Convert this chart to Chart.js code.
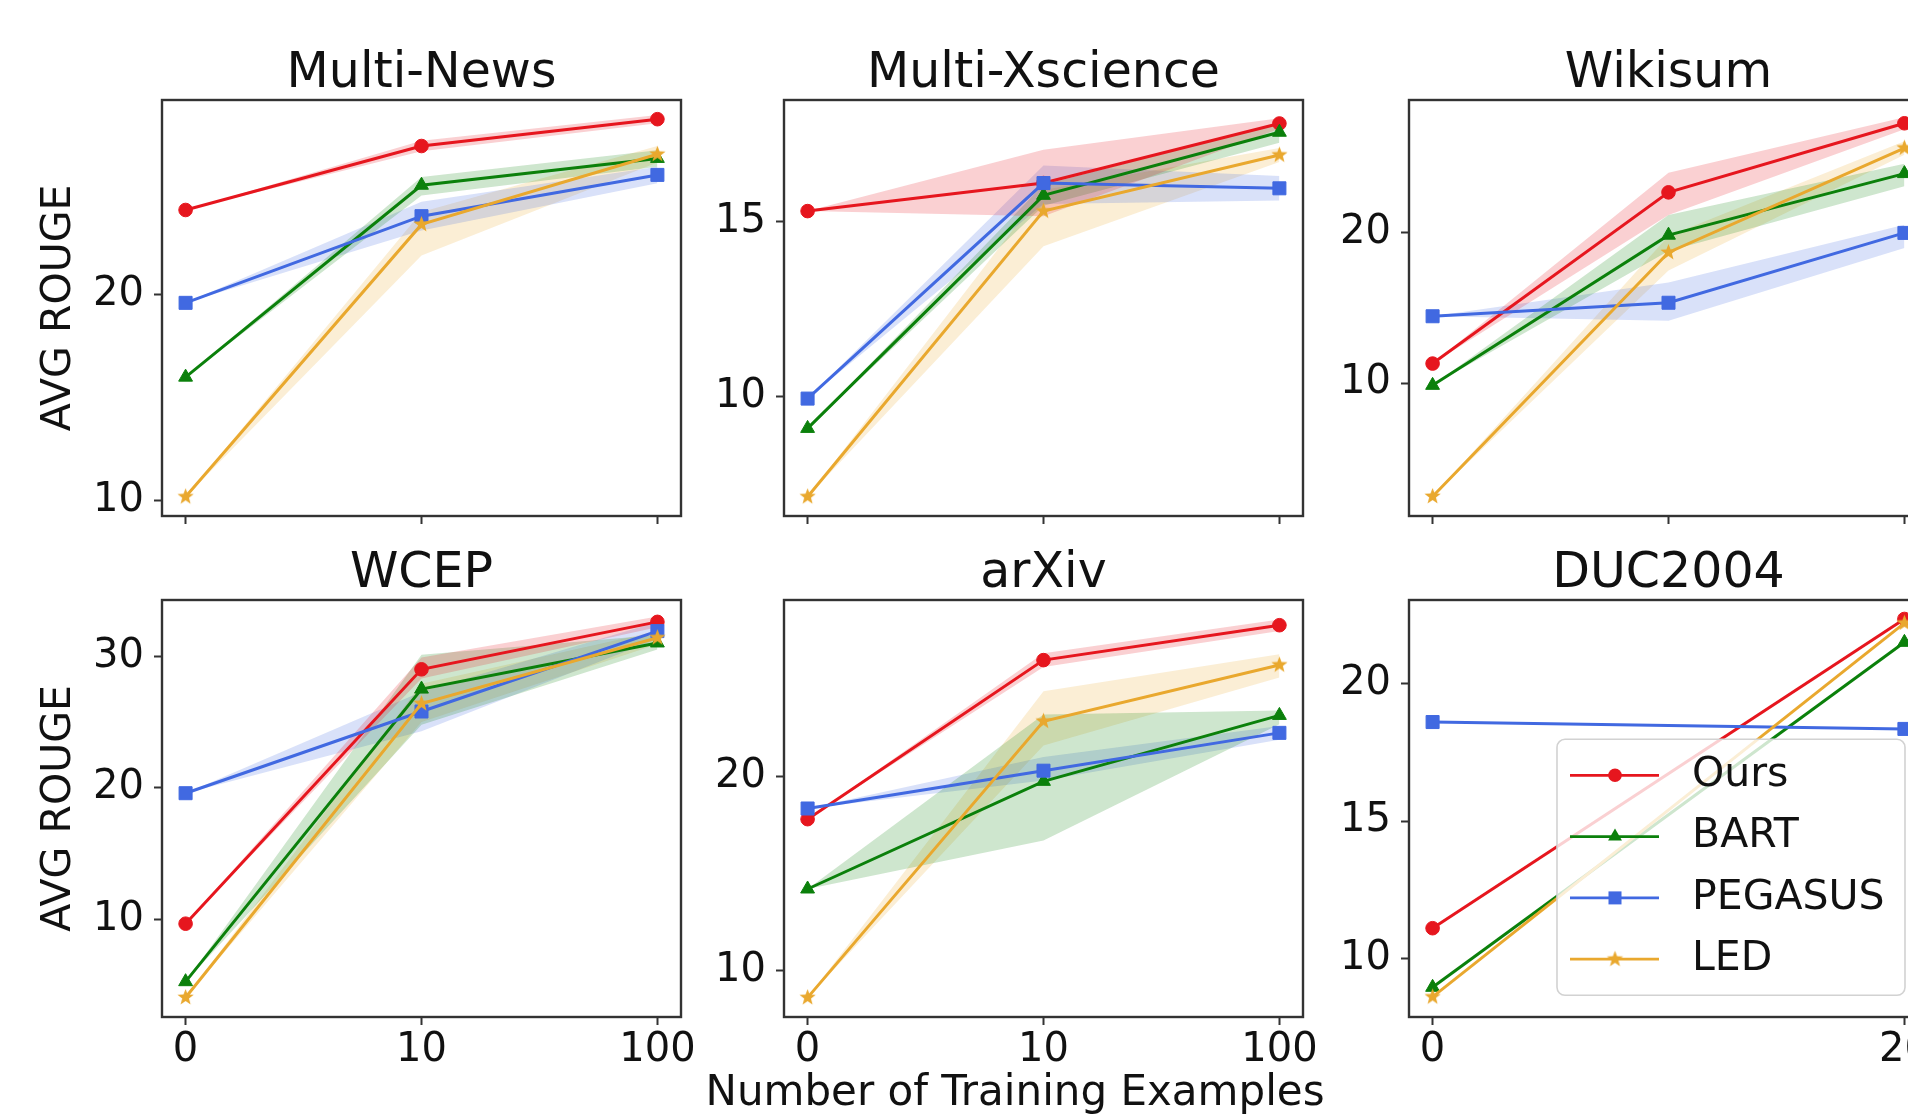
<!DOCTYPE html>
<html>
<head>
<meta charset="utf-8">
<title>Few-shot AVG ROUGE</title>
<script src="https://cdn.jsdelivr.net/npm/chart.js@4.4.1/dist/chart.umd.min.js"></script>
<style>
  html, body { margin: 0; padding: 0; background: #fff; width: 1908px; height: 1116px; overflow: hidden; }
  canvas { position: absolute; }
  #xlabel { position: absolute; left: 1015px; top: 1070px; transform: translateX(-50%);
            font-family: 'DejaVu Sans'; font-size: 42px; line-height: 42px; white-space: nowrap; color: #111; }
</style>
</head>
<body>
<canvas id="news"></canvas>
<canvas id="xsci"></canvas>
<canvas id="wiki"></canvas>
<canvas id="wcep"></canvas>
<canvas id="arxiv"></canvas>
<canvas id="duc"></canvas>
<div id="xlabel">Number of Training Examples</div>
<script>
// models and x categories
var models = ['Ours', 'BART', 'PEGASUS', 'LED'];
var shots = ['0', '10', '100'];
var ducShots = ['0', '20'];

// rows follow the models order: mean, lower and upper edge of the shaded band
var newsMean = [[24.1, 27.2, 28.5], [16.0, 25.3, 26.6], [19.6, 23.8, 25.8], [10.2, 23.4, 26.8]];
var newsLow  = [[24.1, 26.95, 28.3], [16.0, 24.8, 26.2], [19.6, 23.1, 25.4], [10.2, 21.9, 26.4]];
var newsHigh = [[24.1, 27.45, 28.7], [16.0, 25.7, 27.0], [19.6, 24.5, 26.2], [10.2, 24.0, 27.2]];
var newsTicks = [10, 20];
var newsRange = [9.27, 29.43];

var xsciMean = [[15.3, 16.1, 17.8], [9.1, 15.75, 17.55], [9.95, 16.1, 15.95], [7.15, 15.3, 16.9]];
var xsciLow  = [[15.3, 15.15, 17.65], [9.1, 15.45, 17.25], [9.95, 15.5, 15.6], [7.15, 14.3, 16.7]];
var xsciHigh = [[15.3, 17.05, 17.95], [9.1, 16.05, 17.8], [9.95, 16.6, 16.3], [7.15, 15.9, 17.1]];
var xsciTicks = [10, 15];
var xsciRange = [6.6, 18.47];

var wikiMean = [[11.3, 22.7, 27.3], [9.85, 19.85, 23.95], [14.45, 15.35, 20.0], [2.45, 18.7, 25.65]];
var wikiLow  = [[11.3, 21.2, 26.9], [9.85, 18.8, 23.1], [14.45, 14.15, 19.0], [2.45, 17.5, 25.2]];
var wikiHigh = [[11.3, 24.0, 27.7], [9.85, 21.2, 24.6], [14.45, 16.7, 20.55], [2.45, 19.8, 26.1]];
var wikiTicks = [10, 20];
var wikiRange = [1.15, 28.85];

var wcepMean = [[9.7, 29.0, 32.6], [5.3, 27.5, 31.0], [19.6, 25.8, 31.9], [4.1, 26.4, 31.4]];
var wcepLow  = [[9.7, 28.3, 32.2], [5.3, 24.8, 30.5], [19.6, 24.3, 31.3], [4.1, 25.0, 30.9]];
var wcepHigh = [[9.7, 29.9, 33.0], [5.3, 30.1, 31.6], [19.6, 27.3, 32.6], [4.1, 27.9, 31.9]];
var wcepTicks = [10, 20, 30];
var wcepRange = [2.62, 34.26];

var arxivMean = [[17.8, 26.0, 27.8], [14.2, 19.75, 23.15], [18.35, 20.3, 22.25], [8.6, 22.85, 25.75]];
var arxivLow  = [[17.8, 25.65, 27.5], [14.2, 16.7, 22.7], [18.35, 19.8, 21.9], [8.6, 21.6, 25.1]];
var arxivHigh = [[17.8, 26.35, 28.1], [14.2, 23.2, 23.4], [18.35, 21.0, 22.6], [8.6, 24.4, 26.3]];
var arxivTicks = [10, 20];
var arxivRange = [7.6, 29.1];

var ducMean = [[11.1, 22.35], [8.95, 21.5], [18.6, 18.35], [8.6, 22.2]];
var ducTicks = [10, 15, 20];
var ducRange = [7.87, 23.04];

// styles
var FONT = 'DejaVu Sans';
var colors = ['#e6161e', '#0b800b', '#4169e1', '#e9a82e'];
var bands = ['rgba(230,22,30,0.2)', 'rgba(11,128,11,0.2)', 'rgba(65,105,225,0.2)', 'rgba(233,168,46,0.2)'];
var radii = [6.8, 8, 9.2, 8.5];

function starImage(color, r) {
    var c = document.createElement('canvas');
    c.width = c.height = Math.ceil(r * 2 + 2);
    var g = c.getContext('2d');
    var m = c.width / 2;
    g.beginPath();
    for (var k = 0; k < 10; k++) {
        var rr = k % 2 ? r * 0.42 : r;
        var a = -Math.PI / 2 + k * Math.PI / 5;
        g.lineTo(m + rr * Math.cos(a), m + rr * Math.sin(a));
    }
    g.closePath();
    g.fillStyle = color;
    g.fill();
    return c;
}
var markers = ['circle', 'triangle', 'rect', starImage(colors[3], 8.5)];

function drawMarker(ctx, k, x, y) {
    var st = markers[k], r = radii[k];
    ctx.fillStyle = colors[k];
    if (typeof st === 'object') { ctx.drawImage(st, x - st.width / 2, y - st.height / 2); return; }
    ctx.beginPath();
    if (st === 'circle') ctx.arc(x, y, r, 0, Math.PI * 2);
    else if (st === 'rect') { var s = r * Math.SQRT1_2; ctx.rect(x - s, y - s, 2 * s, 2 * s); }
    else {
        for (var i = 0; i < 3; i++) {
            var a = i * Math.PI * 2 / 3;
            ctx.lineTo(x + Math.sin(a) * r, y - Math.cos(a) * r);
        }
        ctx.closePath();
    }
    ctx.fill();
}

// box around every axes
var frame = {
    id: 'frame',
    afterDraw: function (chart) {
        var a = chart.chartArea, ctx = chart.ctx;
        ctx.save();
        ctx.strokeStyle = '#333';
        ctx.lineWidth = 2.4;
        ctx.strokeRect(a.left, a.top, a.right - a.left, a.bottom - a.top);
        ctx.restore();
    }
};

// matplotlib-like legend, lower right inside the axes
var legendBox = {
    id: 'legendBox',
    afterDraw: function (chart, args, opts) {
        if (!opts.show) return;
        var ctx = chart.ctx, a = chart.chartArea;
        var w = 348, h = 256;
        var x0 = a.right - 23 - w, y0 = a.bottom - 21.7 - h;
        ctx.save();
        ctx.beginPath();
        ctx.roundRect(x0, y0, w, h, 8);
        ctx.fillStyle = 'rgba(255,255,255,0.8)';
        ctx.fill();
        ctx.strokeStyle = '#d2d2d2';
        ctx.lineWidth = 1.6;
        ctx.stroke();
        ctx.font = '41px ' + FONT;
        ctx.textBaseline = 'middle';
        models.forEach(function (name, k) {
            var y = y0 + 36 + k * 61.3;
            ctx.strokeStyle = colors[k];
            ctx.lineWidth = 2.8;
            ctx.beginPath();
            ctx.moveTo(x0 + 13, y);
            ctx.lineTo(x0 + 102, y);
            ctx.stroke();
            drawMarker(ctx, k, x0 + 58, y);
            ctx.fillStyle = '#111';
            ctx.fillText(name, x0 + 135, y);
        });
        ctx.restore();
    }
};

function toPoints(vals) {
    return vals.map(function (v, i) { return { x: i, y: v }; });
}

// plot areas of the 3x2 grid
var plotLeft = [162, 784, 1409];
var axisWidth = [162, 100, 100];
var plotTop = [100, 600];
var plotHeight = [416, 417];
var PLOT_W = 519;
var PAD_R = 40;

function makePanel(id, title, row, col, labels, mean, low, high, yTicks, yRange, legend) {
    var cv = document.getElementById(id);
    var yw = axisWidth[col];
    var xh = row === 1 ? 60 : 24;
    var titleBox = 49 * 1.05;
    cv.width = yw + PLOT_W + PAD_R;
    cv.height = 60 + plotHeight[row] + xh;
    cv.style.left = (plotLeft[col] - yw) + 'px';
    cv.style.top = (plotTop[row] - 60) + 'px';

    var sets = [];
    models.forEach(function (name, k) {
        if (!low) return;
        sets.push({ data: toPoints(high[k]), borderWidth: 0, borderColor: 'transparent', pointRadius: 0, fill: false, order: 10 });
        sets.push({ data: toPoints(low[k]), borderWidth: 0, borderColor: 'transparent', pointRadius: 0,
                    fill: '-1', backgroundColor: bands[k], order: 10 });
    });
    models.forEach(function (name, k) {
        sets.push({
            label: name, data: toPoints(mean[k]),
            borderColor: colors[k], backgroundColor: colors[k], borderWidth: 3,
            pointStyle: markers[k], pointRadius: radii[k], pointBorderWidth: 1,
            pointBackgroundColor: colors[k], pointBorderColor: colors[k],
            tension: 0, fill: false, order: 3 - k
        });
    });

    var margin = (labels.length - 1) * 0.05;
    var tickFont = { family: FONT, size: 40 };

    return new Chart(cv, {
        type: 'line',
        data: { datasets: sets },
        options: {
            responsive: false,
            animation: false,
            devicePixelRatio: 1,
            layout: { autoPadding: false, padding: { left: 0, top: 60 - titleBox, right: PAD_R, bottom: 0 } },
            plugins: {
                legend: { display: false },
                tooltip: { enabled: false },
                title: { display: true, text: title, fullSize: false, padding: 0, color: '#111',
                         font: { family: FONT, size: 49, weight: 'normal', lineHeight: 1.05 } },
                legendBox: { show: legend }
            },
            scales: {
                x: {
                    type: 'linear',
                    min: -margin, max: labels.length - 1 + margin,
                    afterBuildTicks: function (s) { s.ticks = labels.map(function (_, i) { return { value: i }; }); },
                    afterFit: function (s) { s.height = xh; s.paddingLeft = 0; s.paddingRight = 0; },
                    ticks: { display: row === 1, autoSkip: false, maxRotation: 0, padding: 2, color: '#111', font: tickFont,
                             callback: function (v) { return labels[v]; } },
                    grid: { display: true, drawOnChartArea: false, drawTicks: true, tickLength: 8,
                            color: '#333', tickColor: '#333', tickWidth: 2 },
                    border: { display: false }
                },
                y: {
                    min: yRange[0], max: yRange[1],
                    afterBuildTicks: function (s) { s.ticks = yTicks.map(function (v) { return { value: v }; }); },
                    afterFit: function (s) { s.width = yw; s.paddingTop = 0; s.paddingBottom = 0; },
                    ticks: { padding: 10, color: '#111', font: tickFont },
                    grid: { display: true, drawOnChartArea: false, drawTicks: true, tickLength: 8,
                            color: '#333', tickColor: '#333', tickWidth: 2 },
                    border: { display: false },
                    title: { display: col === 0, text: 'AVG ROUGE', color: '#111', padding: { top: 34.4, bottom: 0 },
                             font: { family: FONT, size: 41 } }
                }
            }
        },
        plugins: [frame, legendBox]
    });
}

makePanel('news', 'Multi-News', 0, 0, shots, newsMean, newsLow, newsHigh, newsTicks, newsRange, false);
makePanel('xsci', 'Multi-Xscience', 0, 1, shots, xsciMean, xsciLow, xsciHigh, xsciTicks, xsciRange, false);
makePanel('wiki', 'Wikisum', 0, 2, shots, wikiMean, wikiLow, wikiHigh, wikiTicks, wikiRange, false);
makePanel('wcep', 'WCEP', 1, 0, shots, wcepMean, wcepLow, wcepHigh, wcepTicks, wcepRange, false);
makePanel('arxiv', 'arXiv', 1, 1, shots, arxivMean, arxivLow, arxivHigh, arxivTicks, arxivRange, false);
makePanel('duc', 'DUC2004', 1, 2, ducShots, ducMean, null, null, ducTicks, ducRange, true);
</script>
</body>
</html>
